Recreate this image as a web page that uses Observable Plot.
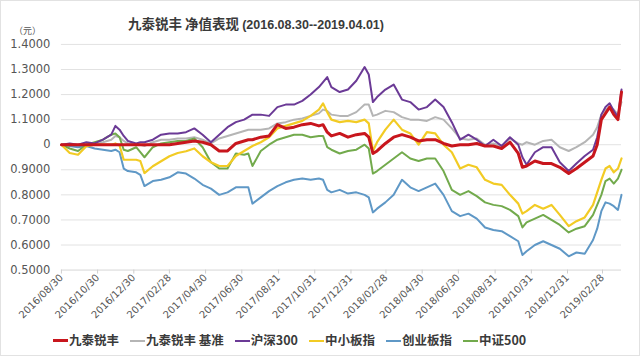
<!DOCTYPE html>
<html>
<head>
<meta charset="utf-8">
<script src="https://cdn.jsdelivr.net/npm/d3@7"></script>
<script src="https://cdn.jsdelivr.net/npm/@observablehq/plot@0.6"></script>
<style>
  html, body { margin: 0; padding: 0; background: #fff; }
  #wrap { position: relative; width: 640px; height: 356px; overflow: hidden; font-family: "Noto Sans CJK SC", "Noto Sans", sans-serif; box-sizing: border-box; border: 1px solid #e2e2e2; }
  #title { position: absolute; left: 0; width: 510px; top: 9px; text-align: center; font-weight: bold; color: #3a3a3a; white-space: nowrap; }
  #title .cjk { font-size: 13.5px; }
  #title .lat { font-family: "Liberation Sans", Arial, sans-serif; font-size: 12.5px; }
  #unit { position: absolute; left: 13px; top: 25px; font-size: 9px; line-height: 9px; color: #555; }
  #chart { position: absolute; left: -1px; top: -1px; }
  #legend { position: absolute; top: 329px; left: 52px; white-space: nowrap; font-size: 12.5px; font-weight: bold; color: #3a3a3a; }
  #legend .item { display: inline-block; margin-right: 11px; }
  #legend .sw { display: inline-block; width: 15px; vertical-align: middle; margin-right: 1px; position: relative; top: -1px; }
</style>
</head>
<body>
<div id="wrap">
  <div id="chart"></div>
  <div id="title"><span class="cjk">九泰锐丰 净值表现 </span><span class="lat">(2016.08.30--2019.04.01)</span></div>
  <div id="unit">（元）</div>
  <div id="legend"></div>
</div>
<script>
const dates = [
"2016-08-30","2016-09-13","2016-09-27","2016-10-11","2016-10-25","2016-11-08","2016-11-22","2016-11-29","2016-12-06","2016-12-13",
"2016-12-20","2017-01-03","2017-01-10","2017-01-17","2017-01-31","2017-02-14","2017-02-28","2017-03-14","2017-03-28","2017-04-11",
"2017-04-25","2017-05-09","2017-05-23","2017-06-06","2017-06-20","2017-07-04","2017-07-11","2017-07-18","2017-08-01","2017-08-15",
"2017-08-29","2017-09-12","2017-09-26","2017-10-10","2017-10-24","2017-11-07","2017-11-14","2017-11-21","2017-11-28","2017-12-12",
"2017-12-26","2018-01-09","2018-01-23","2018-01-30","2018-02-06","2018-02-13","2018-02-27","2018-03-13","2018-03-27","2018-04-10",
"2018-04-24","2018-05-08","2018-05-22","2018-06-05","2018-06-19","2018-07-03","2018-07-17","2018-07-31","2018-08-14","2018-08-28",
"2018-09-11","2018-09-25","2018-10-09","2018-10-16","2018-10-23","2018-11-06","2018-11-20","2018-12-04","2018-12-18","2019-01-02",
"2019-01-15","2019-01-29","2019-02-12","2019-02-19","2019-02-26","2019-03-05","2019-03-12","2019-03-19","2019-03-26","2019-04-01"
];

const fund = [
1.0,1.0,1.0,1.0,1.0,1.0,1.0,1.0,1.0,1.0,
1.0,1.0,1.0,1.0,1.0,1.0,1.0,1.005,1.01,1.015,
1.01,1.0,0.975,0.975,1.005,1.015,1.02,1.02,1.03,1.035,
1.08,1.065,1.07,1.08,1.085,1.075,1.08,1.05,1.035,1.045,
1.03,1.04,1.045,1.03,0.965,0.975,1.005,1.03,1.04,1.03,
1.015,1.02,1.02,1.005,0.995,1.0,1.0,1.005,0.995,0.995,
0.985,1.01,0.965,0.91,0.915,0.935,0.925,0.925,0.91,0.885,
0.905,0.93,0.955,1.0,1.1,1.125,1.15,1.12,1.10,1.21
];
const benchmark = [
1.0,1.0,0.995,1.0,1.0,1.01,1.02,1.035,1.03,1.015,
1.005,1.0,1.0,0.995,1.01,1.02,1.02,1.025,1.025,1.03,
1.02,1.005,1.025,1.035,1.045,1.055,1.06,1.06,1.06,1.065,
1.085,1.09,1.10,1.105,1.115,1.125,1.14,1.135,1.12,1.115,
1.115,1.13,1.16,1.16,1.115,1.12,1.135,1.13,1.11,1.10,
1.10,1.095,1.11,1.10,1.065,1.025,1.02,1.025,1.0,1.005,
0.995,1.025,1.005,1.0,1.01,1.0,1.015,1.02,0.99,0.975,
0.99,1.01,1.04,1.07,1.12,1.14,1.15,1.14,1.12,1.17
];
const hs300 = [
1.0,1.005,1.0,1.01,1.005,1.02,1.04,1.075,1.06,1.035,
1.015,1.005,1.01,1.01,1.02,1.04,1.045,1.045,1.05,1.065,
1.04,1.01,1.04,1.07,1.09,1.10,1.11,1.12,1.12,1.115,
1.15,1.16,1.16,1.175,1.20,1.23,1.25,1.27,1.23,1.21,
1.22,1.255,1.31,1.28,1.17,1.19,1.22,1.24,1.18,1.17,
1.14,1.15,1.18,1.15,1.09,1.02,1.04,1.02,0.995,1.02,
0.995,1.03,1.0,0.95,0.92,0.97,0.99,0.99,0.93,0.895,
0.925,0.955,0.98,1.03,1.12,1.15,1.165,1.135,1.11,1.22
];
const sme = [
1.0,0.967,0.96,0.994,1.0,1.0,1.0,1.005,0.997,0.94,
0.94,0.94,0.935,0.887,0.914,0.934,0.954,0.967,0.974,0.985,
0.954,0.93,0.915,0.915,0.955,0.975,0.985,0.995,1.01,1.03,
1.065,1.075,1.085,1.095,1.115,1.14,1.165,1.13,1.10,1.09,
1.095,1.09,1.10,1.085,0.975,1.01,1.06,1.10,1.06,1.045,
1.0,1.05,1.045,1.0,0.97,0.905,0.92,0.91,0.86,0.845,
0.84,0.80,0.765,0.725,0.735,0.76,0.745,0.76,0.72,0.675,
0.695,0.71,0.76,0.81,0.86,0.905,0.915,0.89,0.905,0.945
];
const chinext = [
1.0,0.995,0.99,0.995,0.985,0.98,0.975,0.98,0.97,0.905,
0.895,0.89,0.88,0.835,0.855,0.86,0.87,0.89,0.885,0.865,
0.84,0.825,0.80,0.81,0.83,0.83,0.83,0.765,0.79,0.815,
0.835,0.85,0.86,0.865,0.86,0.865,0.86,0.82,0.81,0.82,
0.805,0.81,0.80,0.79,0.73,0.745,0.77,0.80,0.86,0.83,
0.815,0.83,0.845,0.80,0.735,0.715,0.725,0.705,0.67,0.66,
0.655,0.635,0.615,0.56,0.575,0.60,0.615,0.60,0.585,0.555,
0.57,0.565,0.62,0.665,0.735,0.77,0.765,0.755,0.74,0.80
];
const csi500 = [
1.0,0.985,0.975,1.0,1.01,1.02,1.04,1.045,1.03,0.98,
0.975,0.99,0.97,0.95,0.99,1.005,1.01,1.015,1.015,1.025,
0.99,0.93,0.905,0.905,0.965,0.96,0.965,0.915,0.975,1.0,
1.02,1.03,1.04,1.04,1.03,1.035,1.035,0.99,0.98,0.965,
0.975,0.98,1.0,0.985,0.885,0.895,0.92,0.945,0.97,0.945,
0.935,0.945,0.945,0.895,0.82,0.80,0.815,0.795,0.77,0.76,
0.755,0.74,0.715,0.67,0.69,0.705,0.72,0.70,0.68,0.65,
0.665,0.675,0.72,0.76,0.80,0.855,0.865,0.845,0.865,0.90
];

const seriesNames = ["九泰锐丰", "九泰锐丰 基准", "沪深300", "中小板指", "创业板指", "中证500"];
const seriesValues = [fund, benchmark, hs300, sme, chinext, csi500];
const seriesColors = ["#c8161d", "#b5b5b5", "#6b3a96", "#f2cb24", "#5f98c6", "#72aa4c"];
const seriesWidths = [3, 2, 2, 2.2, 2, 2];
const drawOrder = [1, 4, 5, 3, 2, 0];

const yTicks = [0.5, 0.6, 0.7, 0.8, 0.9, 1.0, 1.1, 1.2, 1.3, 1.4];
const yTickLabels = ["0.5000", "0.6000", "0.7000", "0.8000", "0.9000", "0", "1.1000", "1.2000", "1.3000", "1.4000"];
const xTickLabels = ["2016/08/30", "2016/10/30", "2016/12/30", "2017/02/28", "2017/04/30", "2017/06/30", "2017/08/31", "2017/10/31",
  "2017/12/31", "2018/02/28", "2018/04/30", "2018/06/30", "2018/08/31", "2018/10/31", "2018/12/31", "2019/02/28"];

const parseDay = d3.utcParse("%Y-%m-%d");
const parseTick = d3.utcParse("%Y/%m/%d");
const xTickDates = xTickLabels.map(parseTick);
const fmtTick = d3.utcFormat("%Y/%m/%d");

const lineMarks = drawOrder.map(k => {
  const rows = dates.map((d, i) => ({date: parseDay(d), value: seriesValues[k][i]}));
  return Plot.line(rows, {x: "date", y: "value", stroke: seriesColors[k], strokeWidth: seriesWidths[k], strokeLinejoin: "round", curve: "linear"});
});

const chart = Plot.plot({
  width: 640,
  height: 322,
  marginLeft: 61,
  marginRight: 18,
  marginTop: 44,
  marginBottom: 52,
  style: {fontFamily: "'DejaVu Sans', sans-serif", background: "transparent"},
  x: {type: "utc", domain: [parseDay("2016-08-30"), parseDay("2019-04-01")]},
  y: {domain: [0.5, 1.4]},
  marks: [
    Plot.gridY(yTicks.slice(1), {stroke: "#e2e2e2", strokeOpacity: 1, strokeWidth: 1}),
    Plot.ruleY([0.5], {stroke: "#d6d6d6", strokeWidth: 1}),
    Plot.axisY(yTicks, {tickSize: 0, tickPadding: 11, fontSize: 11.5, fill: "#555", tickFormat: (d) => yTickLabels[yTicks.indexOf(d)], label: null}),
    Plot.axisX(xTickDates, {tickRotate: -45, tickSize: 4, tickPadding: 2, stroke: "#cfcfcf", fill: "#555", fontSize: 10, tickFormat: fmtTick, label: null}),
    ...lineMarks
  ]
});
document.getElementById("chart").appendChild(chart);

const legend = document.getElementById("legend");
seriesNames.forEach((name, k) => {
  const item = document.createElement("span");
  item.className = "item";
  const sw = document.createElement("span");
  sw.className = "sw";
  sw.style.height = (k === 0 ? 3 : 2) + "px";
  sw.style.background = seriesColors[k];
  item.appendChild(sw);
  item.appendChild(document.createTextNode(name));
  legend.appendChild(item);
});
</script>
</body>
</html>
